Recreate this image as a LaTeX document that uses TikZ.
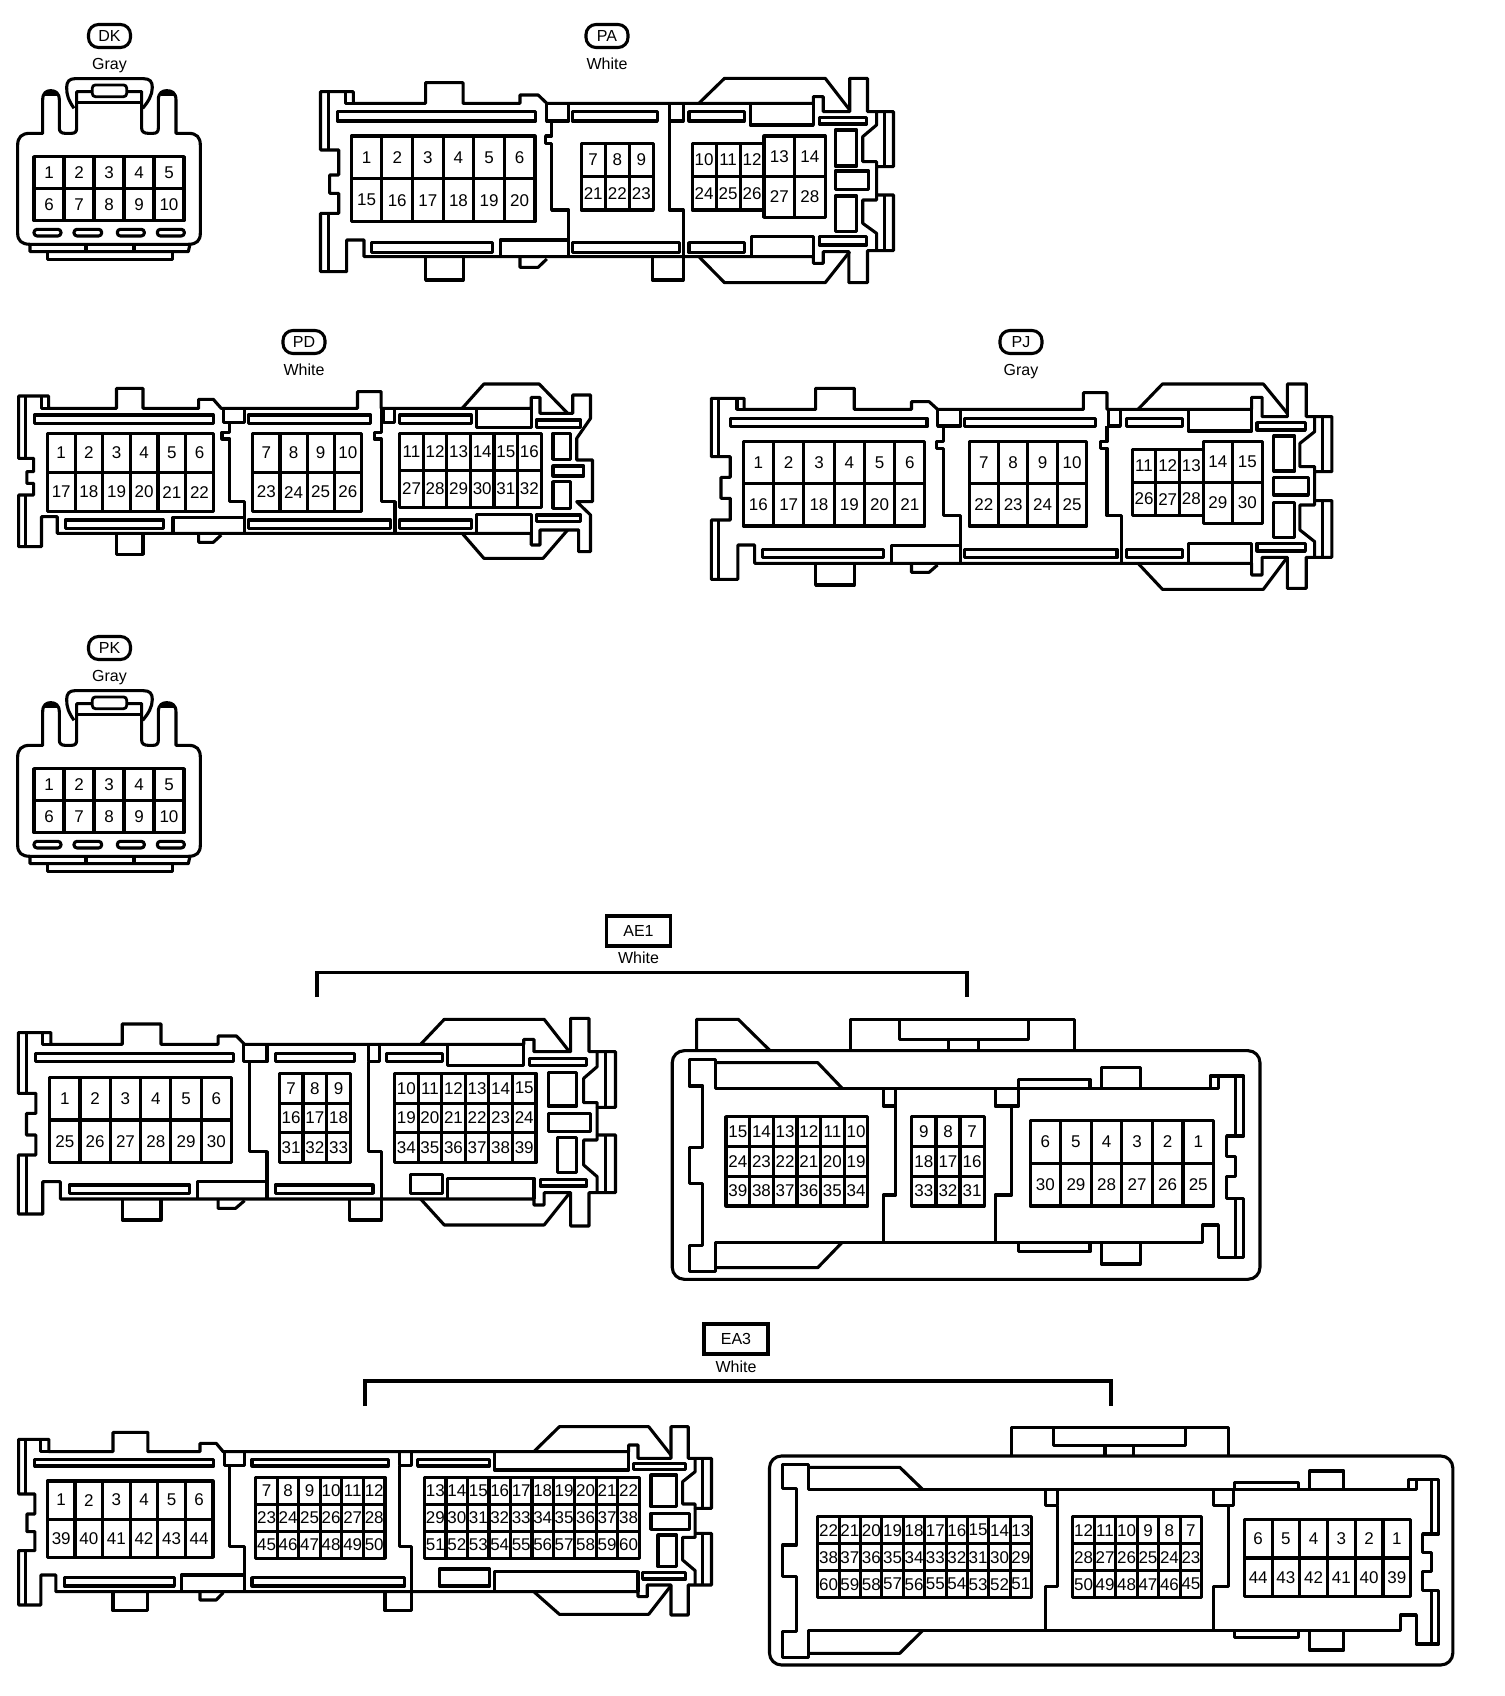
\documentclass[tikz,border=0pt]{standalone}
\usepackage{fontspec}
\setmainfont{Liberation Sans}
\usetikzlibrary{positioning}

\tikzset{
    plugwall/.style={draw, line width=3.1pt, line join=round},
    slotbox/.style={draw, line width=2.8pt, fill=white},
    pinlabel/.style={inner sep=0pt, font=\fontsize{17}{17}\selectfont},
    plugtag/.style={draw, line width=3.1pt, rounded corners=10pt, minimum width=42pt, minimum height=23pt, inner sep=0pt, font=\fontsize{16}{16}\selectfont},
    sockettag/.style={draw, line width=3.1pt, minimum width=64pt, minimum height=30pt, inner sep=0pt, font=\fontsize{16}{16}\selectfont},
    colourlabel/.style={inner sep=0pt, font=\fontsize{16}{16}\selectfont},
    bracket/.style={draw, line width=3.1pt}
}

% name, x1, y1, x2, y2, columns, rows, pin numbers row by row
\newcommand{\pingrid}[8]{
    \draw[plugwall] (#2,#3) rectangle (#4,#5);
    \pgfmathtruncatemacro{\lastcol}{#6-1}
    \pgfmathtruncatemacro{\lastrow}{#7-1}
    \foreach \c in {1,...,\lastcol}
        \draw[plugwall] ({#2+\c*(#4-#2)/#6},#3) -- ({#2+\c*(#4-#2)/#6},#5);
    \foreach \r in {1,...,\lastrow}
        \draw[plugwall] (#2,{#3+\r*(#5-#3)/#7}) -- (#4,{#3+\r*(#5-#3)/#7});
    \foreach \pin [count=\k from 0] in {#8} {
        \pgfmathtruncatemacro{\cc}{mod(\k,#6)}
        \pgfmathtruncatemacro{\rr}{div(\k,#6)}
        \node[pinlabel] (#1-\pin) at ({#2+(\cc+.5)*(#4-#2)/#6},{#3+(\rr+.5)*(#5-#3)/#7}) {\pin};
    }
}

% name, y offset
\newcommand{\tenpinplug}[2]{
    \begin{scope}[shift={(0,#2)}, x=0.3333pt, y=-0.3333pt]
        \draw[plugwall] (53,435) .. controls (53,412) and (65,400) .. (90,400) -- (128,400) -- (128,300) .. controls (128,278) and (140,272) .. (152,272) .. controls (165,272) and (178,278) .. (178,300) -- (178,385) .. controls (178,395) and (185,400) .. (195,400) -- (215,400) .. controls (225,400) and (230,395) .. (230,385) -- (230,275) -- (425,275) -- (425,385) .. controls (425,395) and (432,400) .. (445,400) -- (460,400) .. controls (470,400) and (475,395) .. (475,385) -- (475,300) .. controls (475,278) and (488,272) .. (500,272) .. controls (515,272) and (528,278) .. (528,300) -- (528,400) -- (565,400) .. controls (590,400) and (601,412) .. (601,435) -- (601,700) .. controls (601,722) and (590,733) .. (565,733) -- (90,733) .. controls (65,733) and (53,722) .. (53,700) -- cycle;
        \draw[plugwall] (135,282) -- (172,282);
        \draw[plugwall] (482,282) -- (522,282);
        \draw[plugwall] (222,325) .. controls (205,300) and (200,285) .. (200,262) .. controls (200,245) and (208,236) .. (225,236) -- (430,236) .. controls (450,236) and (457,245) .. (457,262) .. controls (457,285) and (445,305) .. (428,325);
        \draw[plugwall] (230,307) -- (425,307);
        \draw[slotbox, rounded corners=3pt] (277,255) rectangle (380,290);
        \foreach \xa/\xb in {102/183, 222/305, 352/433, 472/553}
            \draw[plugwall, rounded corners=3pt] (\xa,688) rectangle (\xb,708);
        \draw[plugwall] (90,733) -- (90,755) -- (565,755) -- (570,733);
        \draw[plugwall] (258,733) -- (258,755);
        \draw[plugwall] (402,733) -- (402,755);
        \draw[plugwall] (142,755) -- (142,778) -- (518,778) -- (518,755);
        \pingrid{#1}{102}{470}{552}{662}{5}{2}{1,2,3,4,5,6,7,8,9,10}
    \end{scope}
}

\begin{document}
\begin{tikzpicture}[x=1pt, y=-1pt]
    \useasboundingbox (0,0) rectangle (1504,1696);

    % labels
    \node[plugtag] (dktag) at (109.5,36) {DK};
    \node[colourlabel, below=9pt of dktag] (dkcolour) {Gray};
    \node[plugtag] (patag) at (607,36) {PA};
    \node[colourlabel, below=9pt of patag] (pacolour) {White};
    \node[plugtag] (pdtag) at (304,342) {PD};
    \node[colourlabel, below=9pt of pdtag] (pdcolour) {White};
    \node[plugtag] (pjtag) at (1021,342) {PJ};
    \node[colourlabel, below=9pt of pjtag] (pjcolour) {Gray};
    \node[plugtag] (pktag) at (109.5,648) {PK};
    \node[colourlabel, below=9pt of pktag] (pkcolour) {Gray};
    \node[sockettag] (aetag) at (638.5,931) {AE1};
    \node[colourlabel, below=4.5pt of aetag] (aecolour) {White};
    \node[sockettag] (eatag) at (736,1339) {EA3};
    \node[colourlabel, below=5pt of eatag] (eacolour) {White};

    % brackets
    \coordinate (aeleft) at (317,997);
    \coordinate (aetop) at (638.5,972.5);
    \coordinate (aeright) at (967,997);
    \draw[bracket] (aeleft) |- (aetop) -| (aeright);
    \coordinate (ealeft) at (365,1406);
    \coordinate (eatop) at (736,1381);
    \coordinate (earight) at (1111,1406);
    \draw[bracket] (ealeft) |- (eatop) -| (earight);

    \tenpinplug{dk}{0}
    \tenpinplug{pk}{612}

    % PA
    \begin{scope}[shift={(300,60)}, x=0.3949pt, y=-0.3333pt]
        \draw[plugwall] (52,95) -- (135,95) -- (135,130) -- (318,130) -- (318,68) -- (413,68) -- (413,130) -- (557,130) -- (557,105) -- (603,105) -- (625,130) -- (1300,130) -- (1300,110) -- (1325,110) -- (1325,155) -- (1392,155) -- (1392,55) -- (1437,55) -- (1437,155) -- (1503,155) -- (1503,320) -- (1460,320) -- (1460,405) -- (1503,405) -- (1503,572) -- (1437,572) -- (1437,668) -- (1390,668) -- (1390,575) -- (1325,575) -- (1325,610) -- (1300,610) -- (1300,590) -- (162,590) -- (162,540) -- (118,540) -- (118,635) -- (52,635) -- (52,460) -- (98,460) -- (98,400) -- (75,400) -- (75,345) -- (98,345) -- (98,270) -- (52,270) -- cycle;
        \draw[plugwall] (72,95) -- (72,270) (72,460) -- (72,635) (115,95) -- (115,130) -- (135,130);
        \draw[plugwall] (1460,155) -- (1460,195) -- (1425,230) -- (1425,305) -- (1460,305) -- (1460,320);
        \draw[plugwall] (1460,405) -- (1460,420) -- (1425,420) -- (1425,490) -- (1460,520) -- (1460,572);
        \draw[plugwall] (1480,155) -- (1480,320) (1480,405) -- (1480,572);
        \draw[plugwall] (1010,130) -- (1075,55) -- (1330,55) -- (1392,150);
        \draw[plugwall] (1010,590) -- (1075,668) -- (1330,668) -- (1392,575);
        \draw[plugwall] (318,590) -- (318,660) -- (413,660) -- (413,590);
        \draw[plugwall] (557,590) -- (557,622) -- (603,622) -- (625,597);
        \draw[plugwall] (892,590) -- (892,660) -- (970,660) -- (970,590);
        \draw[plugwall] (625,130) -- (625,183) -- (680,183) -- (680,130);
        \draw[plugwall] (637,183) -- (637,228) -- (622,228) -- (622,250) -- (637,250) -- (637,450) -- (680,450) -- (680,590);
        \draw[plugwall] (507,590) -- (507,540) -- (680,540);
        \draw[plugwall] (935,130) -- (935,450) -- (970,450) -- (970,590);
        \draw[plugwall] (935,183) -- (970,183) -- (970,130);
        \draw[plugwall] (1140,130) -- (1140,195) -- (1300,195) -- (1300,130);
        \draw[plugwall] (1143,590) -- (1143,530) -- (1300,530) -- (1300,590);
        \foreach \xa/\ya/\xb/\yb in {95/155/597/183, 690/155/905/183, 985/155/1125/183, 1315/172/1435/192, 180/548/487/578, 690/548/960/578, 985/548/1125/578, 1315/530/1435/555, 1355/210/1410/318, 1355/333/1440/388, 1355/408/1410/515}
            \draw[plugwall] (\xa,\ya) rectangle (\xb,\yb);
        \pingrid{pa}{130}{228}{595}{485}{6}{2}{1,2,3,4,5,6,15,16,17,18,19,20}
        \pingrid{pa}{712}{250}{895}{450}{3}{2}{7,8,9,21,22,23}
        \pingrid{pa}{993}{250}{1175}{450}{3}{2}{10,11,12,24,25,26}
        \pingrid{pa}{1175}{228}{1330}{472}{2}{2}{13,14,27,28}
    \end{scope}

    % PD
    \begin{scope}[shift={(0,370)}, x=0.395pt, y=-0.3333pt]
        \draw[plugwall] (47,78) -- (123,78) -- (123,115) -- (295,115) -- (295,55) -- (362,55) -- (362,115) -- (503,115) -- (503,88) -- (540,88) -- (560,115) -- (905,115) -- (905,65) -- (965,65) -- (965,115) -- (1345,115) -- (1345,82) -- (1367,82) -- (1367,130) -- (1450,130) -- (1450,75) -- (1495,75) -- (1495,145) -- (1460,205) -- (1460,270) -- (1500,270) -- (1500,395) -- (1460,395) -- (1495,435) -- (1495,545) -- (1465,545) -- (1465,480) -- (1367,480) -- (1367,525) -- (1345,525) -- (1345,490) -- (145,490) -- (145,440) -- (105,440) -- (105,530) -- (47,530) -- (47,375) -- (85,375) -- (85,340) -- (68,340) -- (68,305) -- (85,305) -- (85,265) -- (47,265) -- cycle;
        \draw[plugwall] (65,78) -- (65,265) (65,375) -- (65,530) (105,78) -- (105,115) -- (123,115);
        \draw[plugwall] (1170,115) -- (1225,42) -- (1365,42) -- (1437,130);
        \draw[plugwall] (1170,490) -- (1225,565) -- (1375,565) -- (1437,480);
        \draw[plugwall] (295,490) -- (295,553) -- (362,553) -- (362,490);
        \draw[plugwall] (503,490) -- (503,517) -- (540,517) -- (560,495);
        \draw[plugwall] (565,115) -- (565,158) -- (620,158) -- (620,115);
        \draw[plugwall] (582,158) -- (582,187) -- (562,187) -- (562,207) -- (582,207) -- (582,395) -- (620,395) -- (620,490);
        \draw[plugwall] (438,490) -- (438,442) -- (620,442);
        \draw[plugwall] (970,115) -- (970,158) -- (998,158) -- (998,115);
        \draw[plugwall] (965,115) -- (965,187) -- (947,187) -- (947,207) -- (965,207) -- (965,395) -- (1000,395) -- (1000,490);
        \draw[plugwall] (1207,115) -- (1207,172) -- (1345,172) -- (1345,115);
        \draw[plugwall] (1207,490) -- (1207,433) -- (1345,433) -- (1345,490);
        \foreach \xa/\ya/\xb/\yb in {87/135/540/160, 628/135/938/160, 1012/135/1193/160, 1358/150/1470/172, 165/450/413/475, 628/450/988/475, 1012/450/1193/475, 1358/435/1470/455, 1400/190/1445/268, 1400/288/1478/318, 1400/335/1445/415}
            \draw[plugwall] (\xa,\ya) rectangle (\xb,\yb);
        \pingrid{pd}{120}{190}{540}{425}{6}{2}{1,2,3,4,5,6,17,18,19,20,21,22}
        \pingrid{pd}{640}{190}{915}{425}{4}{2}{7,8,9,10,23,24,25,26}
        \pingrid{pd}{1012}{190}{1370}{412}{6}{2}{11,12,13,14,15,16,27,28,29,30,31,32}
    \end{scope}

    % PJ
    \begin{scope}[shift={(700,370)}, x=0.4204pt, y=-0.3333pt]
        \draw[plugwall] (27,85) -- (105,85) -- (105,118) -- (275,118) -- (275,55) -- (367,55) -- (367,118) -- (503,118) -- (503,95) -- (545,95) -- (565,118) -- (912,118) -- (912,68) -- (968,68) -- (968,118) -- (1312,118) -- (1312,82) -- (1337,82) -- (1337,140) -- (1397,140) -- (1397,42) -- (1442,42) -- (1442,140) -- (1503,140) -- (1503,305) -- (1462,305) -- (1462,392) -- (1503,392) -- (1503,562) -- (1442,562) -- (1442,655) -- (1397,655) -- (1397,562) -- (1337,562) -- (1337,615) -- (1312,615) -- (1312,580) -- (130,580) -- (130,525) -- (90,525) -- (90,628) -- (27,628) -- (27,450) -- (72,450) -- (72,385) -- (50,385) -- (50,322) -- (72,322) -- (72,260) -- (27,260) -- cycle;
        \draw[plugwall] (45,85) -- (45,260) (45,450) -- (45,628) (88,85) -- (88,118) -- (105,118);
        \draw[plugwall] (1462,140) -- (1462,185) -- (1427,220) -- (1427,290) -- (1462,290) -- (1462,305);
        \draw[plugwall] (1462,392) -- (1462,405) -- (1427,405) -- (1427,480) -- (1462,515) -- (1462,562);
        \draw[plugwall] (1480,140) -- (1480,305) (1480,392) -- (1480,562);
        \draw[plugwall] (1042,118) -- (1100,42) -- (1340,42) -- (1397,130);
        \draw[plugwall] (1042,580) -- (1100,658) -- (1340,658) -- (1397,562);
        \draw[plugwall] (275,580) -- (275,645) -- (367,645) -- (367,580);
        \draw[plugwall] (503,580) -- (503,607) -- (545,607) -- (565,585);
        \draw[plugwall] (565,118) -- (565,168) -- (620,168) -- (620,118);
        \draw[plugwall] (580,168) -- (580,215) -- (563,215) -- (563,235) -- (580,235) -- (580,437) -- (620,437) -- (620,580);
        \draw[plugwall] (455,580) -- (455,527) -- (620,527);
        \draw[plugwall] (972,118) -- (972,168) -- (1000,168) -- (1000,118);
        \draw[plugwall] (968,168) -- (968,215) -- (952,215) -- (952,235) -- (968,235) -- (968,437) -- (1002,437) -- (1002,580);
        \draw[plugwall] (1162,118) -- (1162,183) -- (1312,183) -- (1312,118);
        \draw[plugwall] (1162,580) -- (1162,520) -- (1312,520) -- (1312,580);
        \foreach \xa/\ya/\xb/\yb in {72/145/540/170, 630/145/940/170, 1015/145/1147/170, 1325/158/1440/180, 148/538/437/563, 630/538/992/563, 1015/538/1147/563, 1325/520/1440/543, 1365/198/1415/303, 1365/322/1447/375, 1365/397/1415/502}
            \draw[plugwall] (\xa,\ya) rectangle (\xb,\yb);
        \pingrid{pj}{103}{215}{535}{468}{6}{2}{1,2,3,4,5,6,16,17,18,19,20,21}
        \pingrid{pj}{640}{215}{920}{468}{4}{2}{7,8,9,10,22,23,24,25}
        \pingrid{pj}{1028}{238}{1197}{437}{3}{2}{11,12,13,26,27,28}
        \pingrid{pj}{1197}{215}{1337}{460}{2}{2}{14,15,29,30}
    \end{scope}

    % AE1 plug
    \begin{scope}[shift={(0,1000)}, x=0.4076pt, y=-0.3333pt]
        \draw[plugwall] (45,98) -- (125,98) -- (125,133) -- (300,133) -- (300,72) -- (395,72) -- (395,133) -- (535,133) -- (535,108) -- (580,108) -- (600,133) -- (1285,133) -- (1285,118) -- (1310,118) -- (1310,155) -- (1400,155) -- (1400,55) -- (1445,55) -- (1445,155) -- (1510,155) -- (1510,322) -- (1465,322) -- (1465,405) -- (1510,405) -- (1510,578) -- (1445,578) -- (1445,678) -- (1400,678) -- (1400,578) -- (1335,578) -- (1335,615) -- (1310,615) -- (1310,597) -- (148,597) -- (148,545) -- (105,545) -- (105,642) -- (45,642) -- (45,465) -- (88,465) -- (88,405) -- (65,405) -- (65,340) -- (88,340) -- (88,280) -- (45,280) -- cycle;
        \draw[plugwall] (65,98) -- (65,280) (65,465) -- (65,642) (105,98) -- (105,133) -- (125,133);
        \draw[plugwall] (1465,155) -- (1465,200) -- (1432,235) -- (1432,308) -- (1465,308) -- (1465,322);
        \draw[plugwall] (1465,405) -- (1465,420) -- (1432,420) -- (1432,495) -- (1465,530) -- (1465,578);
        \draw[plugwall] (1485,155) -- (1485,322) (1485,405) -- (1485,578);
        \draw[plugwall] (1032,133) -- (1090,58) -- (1335,58) -- (1397,155);
        \draw[plugwall] (1032,597) -- (1090,675) -- (1335,675) -- (1397,580);
        \draw[plugwall] (300,597) -- (300,660) -- (395,660) -- (395,597);
        \draw[plugwall] (535,597) -- (535,625) -- (578,625) -- (600,602);
        \draw[plugwall] (858,597) -- (858,660) -- (935,660) -- (935,597);
        \draw[plugwall] (597,133) -- (597,185) -- (655,185) -- (655,133);
        \draw[plugwall] (612,185) -- (612,455) -- (655,455) -- (655,597);
        \draw[plugwall] (485,597) -- (485,545) -- (655,545);
        \draw[plugwall] (903,133) -- (903,185) -- (930,185) -- (930,133);
        \draw[plugwall] (903,185) -- (903,455) -- (935,455) -- (935,597);
        \draw[plugwall] (1097,133) -- (1097,197) -- (1285,197) -- (1285,133);
        \draw[plugwall] (1097,597) -- (1097,535) -- (1310,535) -- (1310,597);
        \foreach \xa/\ya/\xb/\yb in {87/160/572/185, 675/160/870/185, 948/160/1085/185, 1298/175/1440/197, 170/555/465/580, 675/555/915/580, 1007/523/1085/580, 1325/538/1440/558, 1345/217/1415/318, 1345/340/1448/395, 1367/412/1415/518}
            \draw[plugwall] (\xa,\ya) rectangle (\xb,\yb);
        \pingrid{aep}{122}{232}{568}{488}{6}{2}{1,2,3,4,5,6,25,26,27,28,29,30}
        \pingrid{aep}{685}{220}{860}{488}{3}{3}{7,8,9,16,17,18,31,32,33}
        \pingrid{aep}{968}{220}{1315}{488}{6}{3}{10,11,12,13,14,15,19,20,21,22,23,24,34,35,36,37,38,39}
    \end{scope}

    % AE1 socket
    \begin{scope}[shift={(660,1000)}, x=0.4076pt, y=-0.3333pt]
        \draw[plugwall, rounded corners=12pt] (30,152) rectangle (1472,838);
        \draw[plugwall] (90,152) -- (90,58) -- (192,58) -- (270,152);
        \draw[plugwall] (468,152) -- (468,58) -- (1018,58) -- (1018,152);
        \draw[plugwall] (587,58) -- (587,118) -- (903,118) -- (903,58);
        \draw[plugwall] (707,118) -- (707,152) (782,118) -- (782,152);
        \draw[plugwall] (72,178) -- (137,178) -- (137,265) -- (1350,265) -- (1350,228) -- (1432,228) -- (1432,408) -- (1390,408) -- (1390,470) -- (1412,470) -- (1412,530) -- (1390,530) -- (1390,595) -- (1432,595) -- (1432,772) -- (1370,772) -- (1370,675) -- (1332,675) -- (1332,727) -- (137,727) -- (137,815) -- (72,815) -- (72,737) -- (105,737) -- (105,550) -- (72,550) -- (72,442) -- (105,442) -- (105,258) -- (72,258) -- cycle;
        \draw[plugwall] (1412,228) -- (1412,408) (1412,595) -- (1412,772) (1350,265) -- (1370,265) -- (1370,232);
        \draw[plugwall] (137,188) -- (387,188) -- (447,265);
        \draw[plugwall] (137,803) -- (387,803) -- (447,727);
        \draw[plugwall] (880,265) -- (880,238) -- (1055,238) -- (1055,265);
        \draw[plugwall] (880,727) -- (880,755) -- (1055,755) -- (1055,727);
        \draw[plugwall] (1083,265) -- (1083,203) -- (1178,203) -- (1178,265);
        \draw[plugwall] (1083,727) -- (1083,792) -- (1178,792) -- (1178,727);
        \draw[plugwall] (548,265) -- (548,318) -- (578,318) -- (578,265);
        \draw[plugwall] (578,318) -- (578,585) -- (548,585) -- (548,727);
        \draw[plugwall] (822,265) -- (822,318) -- (880,318) -- (880,265);
        \draw[plugwall] (863,318) -- (863,585) -- (822,585) -- (822,727);
        \pingrid{aes}{162}{350}{510}{618}{6}{3}{15,14,13,12,11,10,24,23,22,21,20,19,39,38,37,36,35,34}
        \pingrid{aes}{618}{350}{795}{618}{3}{3}{9,8,7,18,17,16,33,32,31}
        \pingrid{aes}{908}{362}{1358}{618}{6}{2}{6,5,4,3,2,1,30,29,28,27,26,25}
    \end{scope}

    % EA3 plug
    \begin{scope}[shift={(0,1420)}, x=0.465pt, y=-0.3333pt]
        \draw[plugwall] (40,58) -- (105,58) -- (105,95) -- (243,95) -- (243,37) -- (318,37) -- (318,95) -- (430,95) -- (430,70) -- (465,70) -- (480,95) -- (1352,95) -- (1352,75) -- (1372,75) -- (1372,115) -- (1443,115) -- (1443,20) -- (1480,20) -- (1480,115) -- (1530,115) -- (1530,265) -- (1495,265) -- (1495,340) -- (1530,340) -- (1530,495) -- (1480,495) -- (1480,585) -- (1443,585) -- (1443,495) -- (1392,495) -- (1392,530) -- (1372,530) -- (1372,515) -- (120,515) -- (120,465) -- (88,465) -- (88,555) -- (40,555) -- (40,392) -- (75,392) -- (75,335) -- (58,335) -- (58,282) -- (75,282) -- (75,222) -- (40,222) -- cycle;
        \draw[plugwall] (55,58) -- (55,222) (55,392) -- (55,555) (88,58) -- (88,95) -- (105,95);
        \draw[plugwall] (1495,115) -- (1495,155) -- (1468,185) -- (1468,252) -- (1495,252) -- (1495,265);
        \draw[plugwall] (1495,340) -- (1495,352) -- (1468,352) -- (1468,420) -- (1495,452) -- (1495,495);
        \draw[plugwall] (1510,115) -- (1510,265) (1510,340) -- (1510,495);
        \draw[plugwall] (1148,95) -- (1203,20) -- (1395,20) -- (1443,105);
        \draw[plugwall] (1148,515) -- (1203,583) -- (1395,583) -- (1443,497);
        \draw[plugwall] (243,515) -- (243,572) -- (318,572) -- (318,515);
        \draw[plugwall] (430,515) -- (430,540) -- (465,540) -- (480,518);
        \draw[plugwall] (828,515) -- (828,572) -- (885,572) -- (885,515);
        \draw[plugwall] (482,95) -- (482,137) -- (525,137) -- (525,95);
        \draw[plugwall] (493,137) -- (493,380) -- (525,380) -- (525,515);
        \draw[plugwall] (390,515) -- (390,465) -- (525,465);
        \draw[plugwall] (860,95) -- (860,137) -- (885,137) -- (885,95);
        \draw[plugwall] (860,137) -- (860,380) -- (885,380) -- (885,515);
        \draw[plugwall] (1063,95) -- (1063,150) -- (1352,150) -- (1352,95);
        \draw[plugwall] (1063,515) -- (1063,455) -- (1372,455) -- (1372,515);
        \foreach \xa/\ya/\xb/\yb in {75/118/460/138, 542/118/835/138, 898/118/1053/138, 1362/130/1475/148, 138/473/375/498, 542/473/870/498, 945/447/1053/498, 1382/458/1475/477, 1400/165/1455/260, 1400/280/1482/328, 1415/345/1455/440}
            \draw[plugwall] (\xa,\ya) rectangle (\xb,\yb);
        \pingrid{eap}{102}{183}{458}{412}{6}{2}{1,2,3,4,5,6,39,40,41,42,43,44}
        \pingrid{eap}{550}{172}{828}{415}{6}{3}{7,8,9,10,11,12,23,24,25,26,27,28,45,46,47,48,49,50}
        \pingrid{eap}{913}{172}{1375}{415}{10}{3}{13,14,15,16,17,18,19,20,21,22,29,30,31,32,33,34,35,36,37,38,51,52,53,54,55,56,57,58,59,60}
    \end{scope}

    % EA3 socket
    \begin{scope}[shift={(760,1420)}, x=0.4739pt, y=-0.3333pt]
        \draw[plugwall, rounded corners=12pt] (20,108) rectangle (1462,735);
        \draw[plugwall] (530,108) -- (530,22) -- (988,22) -- (988,108);
        \draw[plugwall] (620,22) -- (620,77) -- (897,77) -- (897,22);
        \draw[plugwall] (728,77) -- (728,108) (788,77) -- (788,108);
        \draw[plugwall] (48,133) -- (102,133) -- (102,208) -- (1368,208) -- (1368,178) -- (1432,178) -- (1432,342) -- (1398,342) -- (1398,398) -- (1417,398) -- (1417,455) -- (1398,455) -- (1398,512) -- (1432,512) -- (1432,672) -- (1385,672) -- (1385,585) -- (1352,585) -- (1352,632) -- (102,632) -- (102,712) -- (48,712) -- (48,635) -- (77,635) -- (77,470) -- (48,470) -- (48,375) -- (77,375) -- (77,205) -- (48,205) -- cycle;
        \draw[plugwall] (1417,178) -- (1417,342) (1417,512) -- (1417,672) (1368,208) -- (1385,208) -- (1385,180);
        \draw[plugwall] (102,142) -- (295,142) -- (343,208);
        \draw[plugwall] (102,700) -- (295,700) -- (343,632);
        \draw[plugwall] (1002,208) -- (1002,188) -- (1137,188) -- (1137,208);
        \draw[plugwall] (1002,632) -- (1002,653) -- (1137,653) -- (1137,632);
        \draw[plugwall] (1160,208) -- (1160,153) -- (1232,153) -- (1232,208);
        \draw[plugwall] (1160,632) -- (1160,690) -- (1232,690) -- (1232,632);
        \draw[plugwall] (603,208) -- (603,257) -- (627,257) -- (627,208);
        \draw[plugwall] (627,257) -- (627,500) -- (603,500) -- (603,632);
        \draw[plugwall] (957,208) -- (957,257) -- (1000,257) -- (1000,208);
        \draw[plugwall] (988,257) -- (988,500) -- (957,500) -- (957,632);
        \pingrid{eas}{122}{290}{573}{533}{10}{3}{22,21,20,19,18,17,16,15,14,13,38,37,36,35,34,33,32,31,30,29,60,59,58,57,56,55,54,53,52,51}
        \pingrid{eas}{660}{290}{932}{533}{6}{3}{12,11,10,9,8,7,28,27,26,25,24,23,50,49,48,47,46,45}
        \pingrid{eas}{1022}{298}{1373}{530}{6}{2}{6,5,4,3,2,1,44,43,42,41,40,39}
    \end{scope}
\end{tikzpicture}
\end{document}
